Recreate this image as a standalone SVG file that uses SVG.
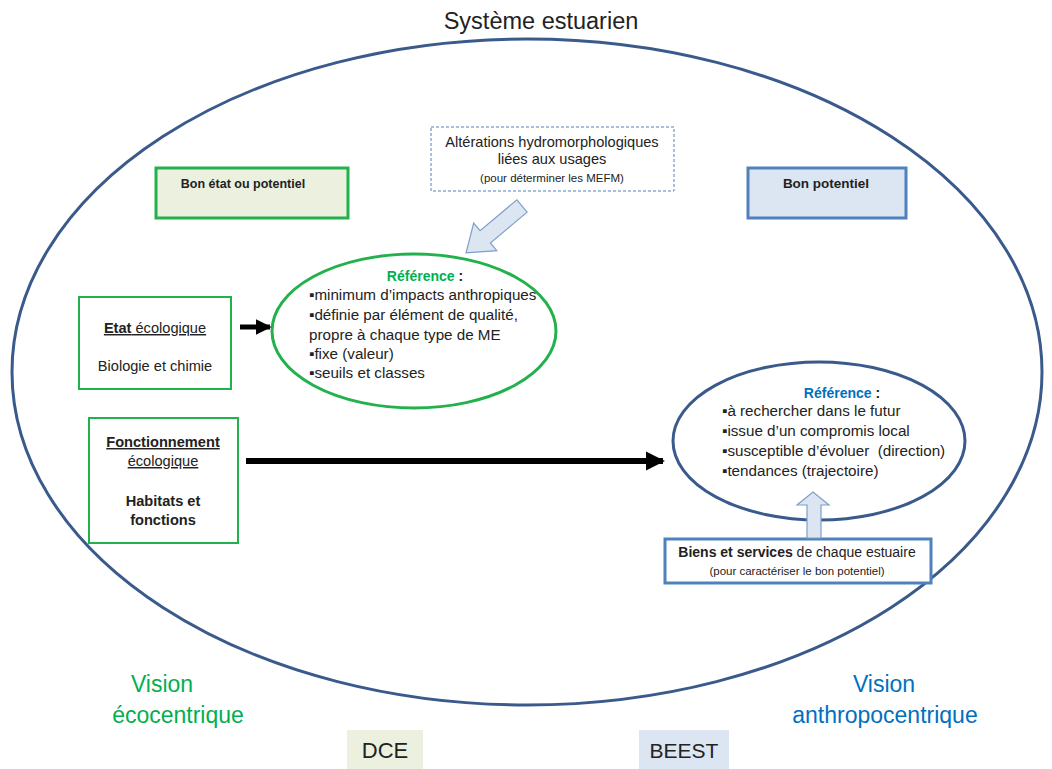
<svg xmlns="http://www.w3.org/2000/svg" width="1052" height="769" viewBox="0 0 1052 769">
<defs>
<style>
text{font-family:"Liberation Sans","Open Sans",sans-serif;fill:#222}
.c{text-anchor:middle}
.b{font-weight:bold}
.u{text-decoration:underline}
.t13{font-size:14.6px}
.li{font-size:15.2px}
.t12{font-size:12.5px}
.t14{font-size:14.6px}
.big{font-size:23px}
.green{fill:#00b050}
.blue{fill:#0070c0}
.gbox{fill:#ffffff;stroke:#22b14c;stroke-width:2}
.bfill{fill:#dce6f2;stroke:#4f81bd;stroke-width:3}
.hollow{fill:#dce6f2;stroke:#7f9fc8;stroke-width:1.2}
</style>
<marker id="ah" viewBox="0 0 10 10" refX="9" refY="5" markerWidth="3.2" markerHeight="3.2" orient="auto" markerUnits="strokeWidth">
<path d="M0,0 L10,5 L0,10 z" fill="#000"/>
</marker>
</defs>
<rect width="1052" height="769" fill="#ffffff"/>

<g id="systeme">
<ellipse cx="527" cy="372" rx="515" ry="333" fill="none" stroke="#3a5a8c" stroke-width="3"/>
<text class="c" style="font-size:23.5px" x="541" y="29">Système estuarien</text>
</g>

<g id="alterations">
<rect x="431" y="127" width="243" height="64" fill="#fff" stroke="#4f81bd" stroke-width="1" stroke-dasharray="3,2"/>
<text class="c t14" x="552" y="147">Altérations hydromorphologiques</text>
<text class="c t14" x="552" y="164">liées aux usages</text>
<text class="c" style="font-size:11.5px" x="552" y="182">(pour déterminer les MEFM)</text>
</g>

<g id="bon-etat">
<rect x="156" y="168" width="192" height="50" fill="#ebf1de" stroke="#22b14c" stroke-width="3"/>
<text class="c t12 b" x="243" y="188">Bon état ou potentiel</text>
</g>

<g id="bon-potentiel">
<rect x="748" y="168" width="158" height="50" class="bfill"/>
<text class="c b" style="font-size:13.5px" x="826" y="188">Bon potentiel</text>
</g>

<g id="ref-eco">
<ellipse cx="414" cy="331" rx="142" ry="77" fill="#fff" stroke="#22b14c" stroke-width="3"/>
<text class="c b green" style="font-size:14px" x="425" y="281">Référence <tspan fill="#222">:</tspan></text>
<text class="li" x="309" y="300">▪minimum d’impacts anthropiques</text>
<text class="li" x="309" y="320">▪définie par élément de qualité,</text>
<text class="li" x="309" y="340">propre à chaque type de ME</text>
<text class="li" x="309" y="359">▪fixe (valeur)</text>
<text class="li" x="309" y="378">▪seuils et classes</text>
</g>

<g id="etat-eco">
<rect x="79" y="297" width="152" height="92" class="gbox"/>
<text class="c t13" x="155" y="333"><tspan class="u"><tspan class="b">Etat</tspan> écologique</tspan></text>
<text class="c t13" x="155" y="371">Biologie et chimie</text>
</g>

<g id="fonctionnement">
<rect x="89" y="418" width="149" height="125" class="gbox"/>
<text class="c t13 b u" x="163" y="447">Fonctionnement</text>
<text class="c t13 u" x="163" y="466">écologique</text>
<text class="c t13 b" x="163" y="506">Habitats et</text>
<text class="c t13 b" x="163" y="525">fonctions</text>
</g>

<g id="ref-anthropo">
<ellipse cx="819" cy="441" rx="146" ry="79" fill="#fff" stroke="#3a5a8c" stroke-width="3"/>
<text class="c b blue" style="font-size:14px" x="842" y="398">Référence <tspan fill="#222">:</tspan></text>
<text class="li" x="722" y="416">▪à rechercher dans le futur</text>
<text class="li" x="722" y="436">▪issue d’un compromis local</text>
<text class="li" x="722" y="456">▪susceptible d’évoluer &#160;(direction)</text>
<text class="li" x="722" y="476">▪tendances (trajectoire)</text>
</g>

<g id="biens">
<rect x="665" y="539" width="266" height="44" fill="#fff" stroke="#4f81bd" stroke-width="3"/>
<text class="c" style="font-size:14px" x="797" y="557"><tspan class="b">Biens et services</tspan> de chaque estuaire</text>
<text class="c" style="font-size:11.5px" x="797" y="575">(pour caractériser le bon potentiel)</text>
</g>

<g id="connectors">
<line x1="240" y1="327" x2="270" y2="327" stroke="#000" stroke-width="5" marker-end="url(#ah)"/>
<line x1="246" y1="461" x2="663" y2="461" stroke="#000" stroke-width="6" marker-end="url(#ah)"/>
<path class="hollow" transform="translate(522,206) rotate(140)" d="M0,-8 L48,-8 L48,-18 L73,0 L48,18 L48,8 L0,8 z"/>
<path class="hollow" d="M807,538 L807,505 L797,505 L813,492 L829,505 L821,505 L821,538 z"/>
</g>

<g id="visions">
<text class="c big green" x="162" y="692">Vision</text>
<text class="c big green" x="178" y="723">écocentrique</text>
<text class="c big blue" x="884" y="692">Vision</text>
<text class="c big blue" x="885" y="723">anthropocentrique</text>
</g>

<g id="dce">
<rect x="347" y="730" width="76" height="39" fill="#ebf1de"/>
<text class="c" style="font-size:22px" x="385" y="758">DCE</text>
</g>
<g id="beest">
<rect x="639" y="730" width="90" height="39" fill="#dce6f2"/>
<text class="c" style="font-size:21px" x="684" y="758">BEEST</text>
</g>
</svg>
